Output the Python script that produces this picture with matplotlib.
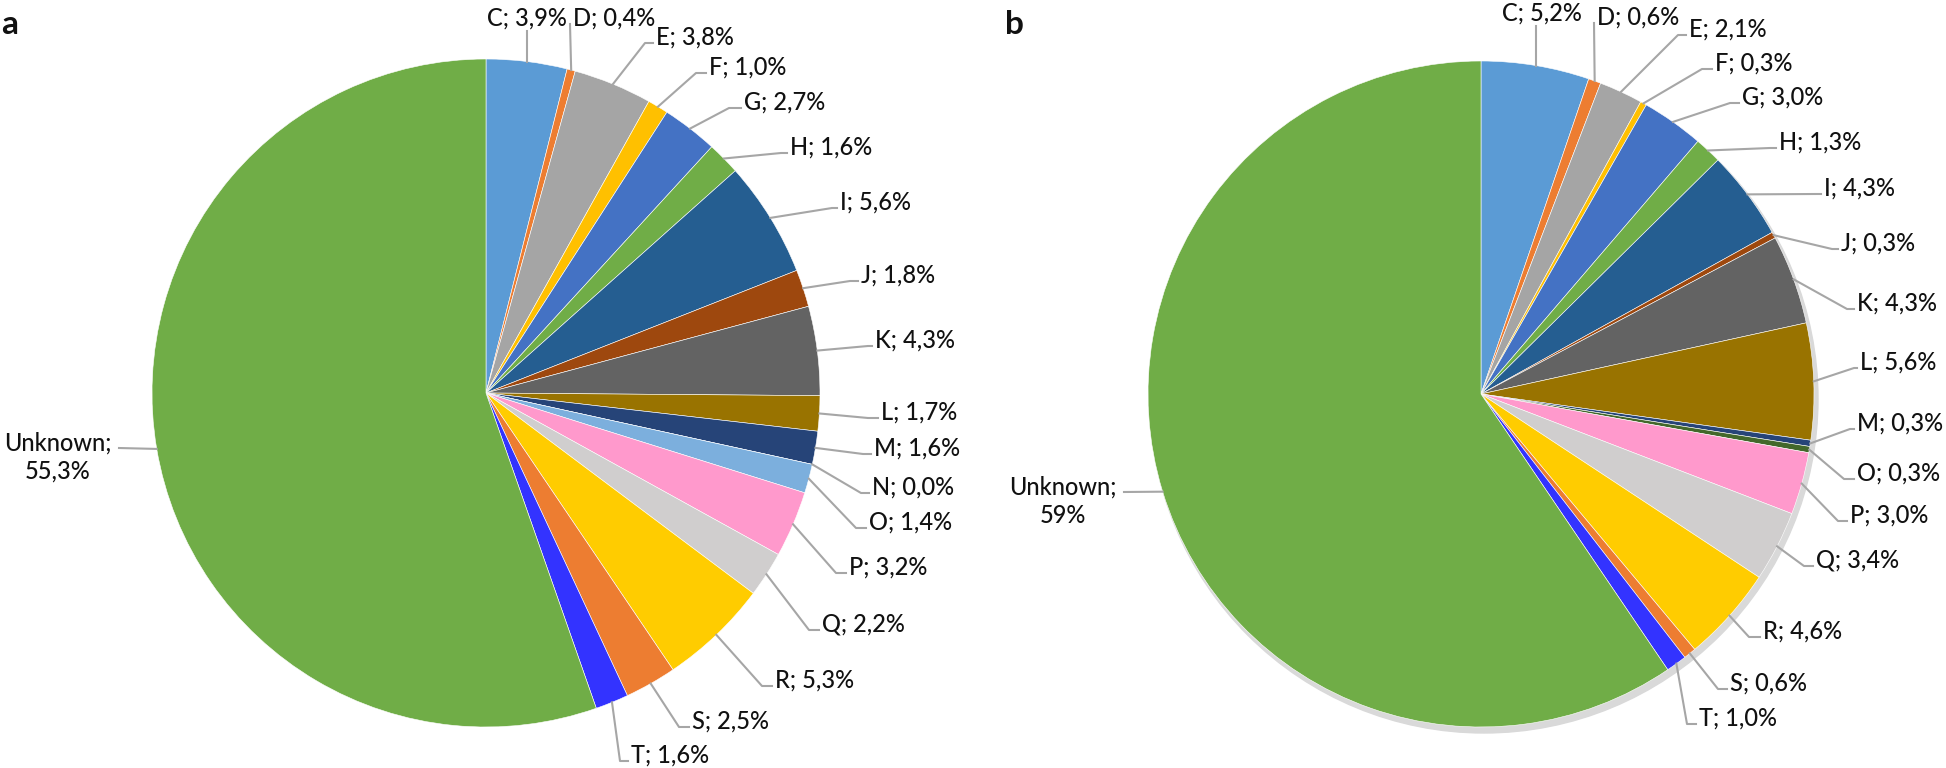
#!/usr/bin/env python3

import numpy as np
import matplotlib
matplotlib.use("Agg")
import matplotlib.pyplot as plt
from matplotlib.patches import Circle

W, H = 1946, 768

# data, panel a
cats_a = ["C", "D", "E", "F", "G", "H", "I", "J", "K", "L", "M", "N",
          "O", "P", "Q", "R", "S", "T", "Unknown"]
vals_a = [3.9, 0.4, 3.8, 1.0, 2.7, 1.6, 5.6, 1.8, 4.3, 1.7, 1.6, 0.0,
          1.4, 3.2, 2.2, 5.3, 2.5, 1.6, 55.3]

# data, panel b (no N)
cats_b = ["C", "D", "E", "F", "G", "H", "I", "J", "K", "L", "M",
          "O", "P", "Q", "R", "S", "T", "Unknown"]
vals_b = [5.2, 0.6, 2.1, 0.3, 3.0, 1.3, 4.3, 0.3, 4.3, 5.6, 0.3,
          0.3, 3.0, 3.4, 4.6, 0.6, 1.0, 59]

COL = {"C": "#5B9BD5", "D": "#ED7D31", "E": "#A5A5A5", "F": "#FFC000",
       "G": "#4472C4", "H": "#70AD47", "I": "#255E91", "J": "#9E480E",
       "K": "#636363", "L": "#997300", "M": "#264478", "N": "#43682B",
       "O": "#7CAFDD", "P": "#FF99CC", "Q": "#D0CECE", "R": "#FFCC00",
       "S": "#ED7D31", "T": "#3333FF", "Unknown": "#70AD47"}
COL_B = dict(COL, O="#43682B")

# label layout in image pixels: (left x, centre y, leader tick); tick None = leader from below
LAYOUT_A = [(487, 18, None), (573, 18, 0), (656, 37, 8), (709, 67, 10),
            (744, 102, 12), (790, 147, 6), (840, 202, 5), (861, 275, 8),
            (875, 340, 4), (881, 412, 10), (874, 448, 8), (872, 487, 8),
            (869, 522, 10), (849, 567, 10), (822, 624, 10), (775, 680, 10),
            (692, 721, 10), (631, 755, 8), (58, 457, None)]
LAYOUT_B = [(1502, 13, None), (1597, 17, 0), (1689, 29, 8), (1715, 63, 10),
            (1742, 97, 9), (1779, 142, 6), (1824, 188, 5), (1841, 243, 6),
            (1857, 303, 7), (1860, 362, 3), (1857, 423, 4), (1857, 473, 10),
            (1850, 515, 9), (1816, 560, 9), (1763, 631, 11), (1730, 683, 9),
            (1699, 718, 9), (1063, 501, None)]

FONT = ["Lato", "DejaVu Sans"]
TXT = "#111111"
LEAD = "#A6A6A6"
FS = 17


def fmt(v):
    if v >= 10 and v == int(v):
        return "%d%%" % v
    return ("%.1f%%" % v).replace(".", ",")


def draw_pie(ax, cats, vals, colors, layout, center, radius, letter, shadow=False):
    cx, cy = center[0], H - center[1]
    if shadow:
        ax.add_patch(Circle((cx + 3, cy - 5), radius + 1, color="#d9d9d9", zorder=0))
    wedges, _ = ax.pie(vals, colors=[colors[c] for c in cats], startangle=90,
                       counterclock=False, center=(cx, cy), radius=radius,
                       wedgeprops=dict(linewidth=0.4, edgecolor="white"))
    for w in wedges:
        w.set_zorder(1)
    for w, c, v, (lx, ly, tick) in zip(wedges, cats, vals, layout):
        mid = np.deg2rad((w.theta1 + w.theta2) / 2.)
        px, py = cx + radius * np.cos(mid), cy + radius * np.sin(mid)
        if c == "Unknown":
            ax.text(lx, H - ly, c + ";\n" + fmt(v), ha="center", va="center",
                    fontsize=FS, color=TXT, family=FONT, fontweight="medium",
                    linespacing=1.3)
            ex = lx + 61
            ax.plot([px, ex], [py, H - (ly - 9)], color=LEAD, lw=1.5, zorder=2)
            continue
        ax.text(lx, H - ly, c + "; " + fmt(v), ha="left", va="center",
                fontsize=FS, color=TXT, family=FONT, fontweight="medium")
        if tick is None:
            ax.plot([px, px], [py, H - (ly + 13)], color=LEAD, lw=1.5, zorder=2)
        else:
            ex, ey = lx - 3, H - (ly + 6)
            ax.plot([px, ex - tick, ex], [py, ey, ey], color=LEAD, lw=1.5, zorder=2)
    ax.text(center[0] - 486 + 1 if letter == "a" else 1005, H - 25, letter,
            ha="left", va="center", fontsize=24, fontweight="bold",
            color="#111111", family=["Lato", "DejaVu Sans"])


fig = plt.figure(figsize=(W / 100., H / 100.), dpi=100)
ax = fig.add_axes([0, 0, 1, 1])
ax.set_xlim(0, W)
ax.set_ylim(0, H)
ax.set_aspect("equal")
ax.axis("off")

draw_pie(ax, cats_a, vals_a, COL, LAYOUT_A, (486, 393), 334, "a")
draw_pie(ax, cats_b, vals_b, COL_B, LAYOUT_B, (1481, 394), 333, "b", shadow=True)

ax.set_xlim(0, W)
ax.set_ylim(0, H)

fig.savefig("out.png", dpi=100, facecolor="white")
